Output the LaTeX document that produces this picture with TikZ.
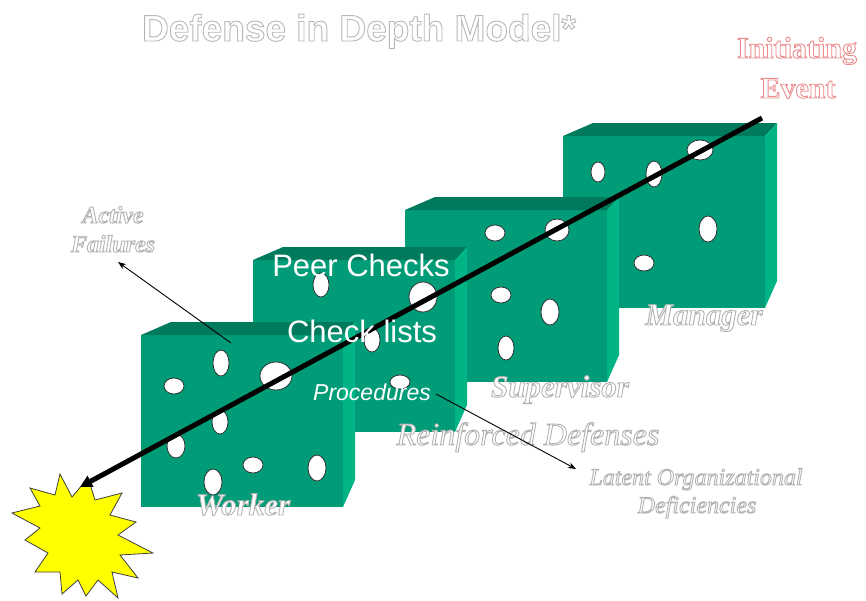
\documentclass[tikz,border=0pt]{standalone}
\usepackage{fontspec}
\setmainfont{Liberation Serif}
\setsansfont{Liberation Sans}
\usetikzlibrary{arrows.meta}
\definecolor{frontc}{RGB}{0,155,119}
\definecolor{topc}{RGB}{0,122,92}
\definecolor{sidec}{RGB}{0,180,134}
\definecolor{starc}{RGB}{255,255,0}
\tikzset{
  holestyle/.style={fill=white,draw=black!80,line width=0.8pt},
  thinarrow/.style={draw=black,line width=0.9pt,-{Stealth[length=8pt,width=6pt]}},
  thickline/.style={draw=black,line width=5pt,-{Triangle[length=12pt,width=12pt]}},
  lab/.style={inner sep=0pt,anchor=base},
  titlefont/.style={lab,font=\sffamily\bfseries\fontsize{37}{40}\selectfont},
  boxfont/.style={lab,text=white,font=\sffamily\fontsize{31}{34}\selectfont},
  procfont/.style={lab,text=white,font=\sffamily\itshape\fontsize{23}{26}\selectfont},
  rolefont/.style={lab,font=\rmfamily\bfseries\itshape\fontsize{31}{34}\selectfont},
  smallfont/.style={lab,font=\rmfamily\bfseries\itshape\fontsize{24}{28}\selectfont},
  notefont/.style={lab,font=\rmfamily\itshape\fontsize{24}{28}\selectfont},
  reinffont/.style={lab,font=\rmfamily\itshape\fontsize{32}{36}\selectfont},
  eventfont/.style={lab,font=\rmfamily\bfseries\fontsize{30}{34}\selectfont},
}
\newcommand\blockbox[2]{%
  \fill[frontc] (#1,#2) rectangle ++(202,172);
  \fill[topc] (#1,#2) -- ++(30,-13) -- ++(184,0) -- ++(-12,13) -- cycle;
  \fill[sidec] (#1+202,#2) -- ++(12,-13) -- ++(0,158) -- ++(-12,27) -- cycle;
}
\newcommand\hole[4]{\draw[holestyle] (#1,#2) ellipse [x radius=#3, y radius=#4];}
% outlined text: white fill, stroked contour in colour #1 (r g b), width #2
\newcommand\olt[3]{{\color{white}\special{pdf:literal direct 2 Tr #2 w #1 RG}#3\special{pdf:literal direct 0 Tr}}}
\newcommand\otext[5]{\node[#3] (#1) at (#2) {\olt{#4}{0.9}{#5}};}
\begin{document}
\begin{tikzpicture}[x=1pt,y=-1pt]
\fill[white] (0,0) rectangle (866,600);
\useasboundingbox (0,0) rectangle (866,600);

% Manager box
\blockbox{563}{136}
\hole{598}{172}{7}{10}
\hole{654}{174}{8}{13}
\hole{700}{150}{13}{10}
\hole{708}{229}{9}{13}
\hole{644}{263}{10}{8}
% Supervisor box
\blockbox{405}{210}
\hole{495}{233}{10}{8}
\hole{557}{230}{12}{11}
\hole{501}{295}{10}{8}
\hole{550}{312}{9}{13}
\hole{506}{348}{8}{12}
% Peer checks box
\blockbox{253}{260}
\hole{321}{285}{8}{12}
\hole{423}{297}{14}{15}
\hole{372}{340}{8}{12}
\hole{400}{382}{10}{7}
% Worker box
\blockbox{141}{335}
\hole{221}{363}{8}{13}
\hole{174}{386}{10}{8}
\hole{276}{376}{16}{14}
\hole{220}{422}{8}{12}
\hole{176}{446}{9}{12}
\hole{253}{465}{10}{8}
\hole{317}{468}{9}{13}
\hole{213}{482}{9}{13}

% star (accident)
\filldraw[fill=starc,draw=black!75,line width=0.8pt]
  (60,474) -- (72,497) -- (88,478) -- (95,500) -- (122,493) -- (110,515)
  -- (136,522) -- (118,535) -- (153,553) -- (120,555) -- (138,578) -- (112,572)
  -- (118,598) -- (98,580) -- (86,596) -- (78,580) -- (62,594) -- (60,572)
  -- (35,572) -- (48,553) -- (25,540) -- (40,528) -- (12,513) -- (40,506)
  -- (30,488) -- (55,495) -- cycle;

% trajectory
\coordinate (ie) at (762,118);
\coordinate (hit) at (80,487);
\draw[thickline] (ie) -- (hit);

% texts on boxes
\node[boxfont] (peer) at (361,276) {Peer Checks};
\node[boxfont] (check) at (362,342) {Check lists};
\node[procfont] (proc) at (372,400) {Procedures};

% outlined labels
\otext{title}{359,41}{titlefont}{0.72 0.72 0.72}{Defense in Depth Model*}
\otext{init}{797,58}{eventfont}{0.92 0.55 0.55}{Initiating}
\otext{event}{798,98}{eventfont}{0.92 0.55 0.55}{Event}
\otext{act}{113,223}{smallfont}{0.7 0.7 0.7}{Active}
\otext{fail}{113,252}{smallfont}{0.7 0.7 0.7}{Failures}
\otext{worker}{243,515}{rolefont}{0.7 0.7 0.7}{Worker}
\otext{sup}{560,397}{rolefont}{0.7 0.7 0.7}{Supervisor}
\otext{mgr}{704,325}{rolefont}{0.7 0.7 0.7}{Manager}
\otext{reinf}{528,445}{reinffont}{0.7 0.7 0.7}{Reinforced Defenses}
\otext{lat}{696,485}{notefont}{0.7 0.7 0.7}{Latent Organizational}
\otext{def}{697,513}{notefont}{0.7 0.7 0.7}{Deficiencies}

% thin arrows
\coordinate (afS) at (231,343);
\coordinate (afT) at (118,262);
\draw[thinarrow] (afS) -- (afT);
\coordinate (loS) at (436,394);
\coordinate (loT) at (576,469);
\draw[thinarrow] (loS) -- (loT);
\end{tikzpicture}
\end{document}
